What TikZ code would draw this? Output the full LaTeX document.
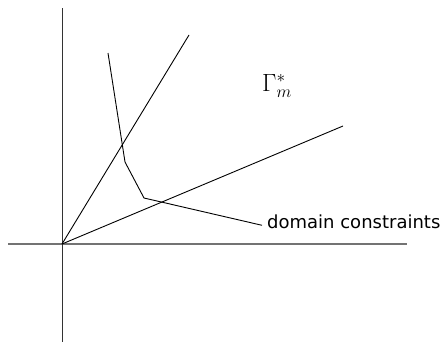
\documentclass[tikz,border=0pt]{standalone}
\usepackage{fontspec}
\newfontfamily\labelfont{DejaVu Sans}
\usetikzlibrary{positioning}

\begin{document}
\begin{tikzpicture}[
      x=1pt, y=-1pt,
      axis/.style={line width=1.3pt, black!55},
      ray/.style={line width=0.9pt, black},
      constraint/.style={line width=0.9pt, black, line join=round},
      lbl/.style={inner sep=0pt, font=\labelfont\fontsize{18}{20}\selectfont}
    ]
      \useasboundingbox (0,0) rectangle (443,343);

      % Axes
      \coordinate (O) at (62,244);
      \coordinate (xl) at (8,244);
      \coordinate (xr) at (407,244);
      \coordinate (yt) at (62,8);
      \coordinate (yb) at (62,342);
      \draw[axis] (xl) -- (xr);
      \draw[ray, black!80] (yt) -- (yb);

      % Cone rays
      \coordinate (r1) at (189,35);
      \coordinate (r2) at (343,126);
      \draw[ray] (O) -- (r1);
      \draw[ray] (O) -- (r2);

      % Cone label
      \node[inner sep=0pt, font=\fontsize{25}{28}\selectfont] (gamma) at (277,86) {$\Gamma_m^*$};

      % Domain constraints
      \node[lbl, anchor=base west] (dc) at (267,228) {domain constraints};
      \coordinate (c1) at (108,53);
      \coordinate (c2) at (125,162);
      \coordinate (c3) at (144,198);
      \draw[constraint] (c1) -- (c2) -- (c3) -- ([xshift=-5pt, yshift=-4pt]dc.west);
    \end{tikzpicture}
\end{document}
